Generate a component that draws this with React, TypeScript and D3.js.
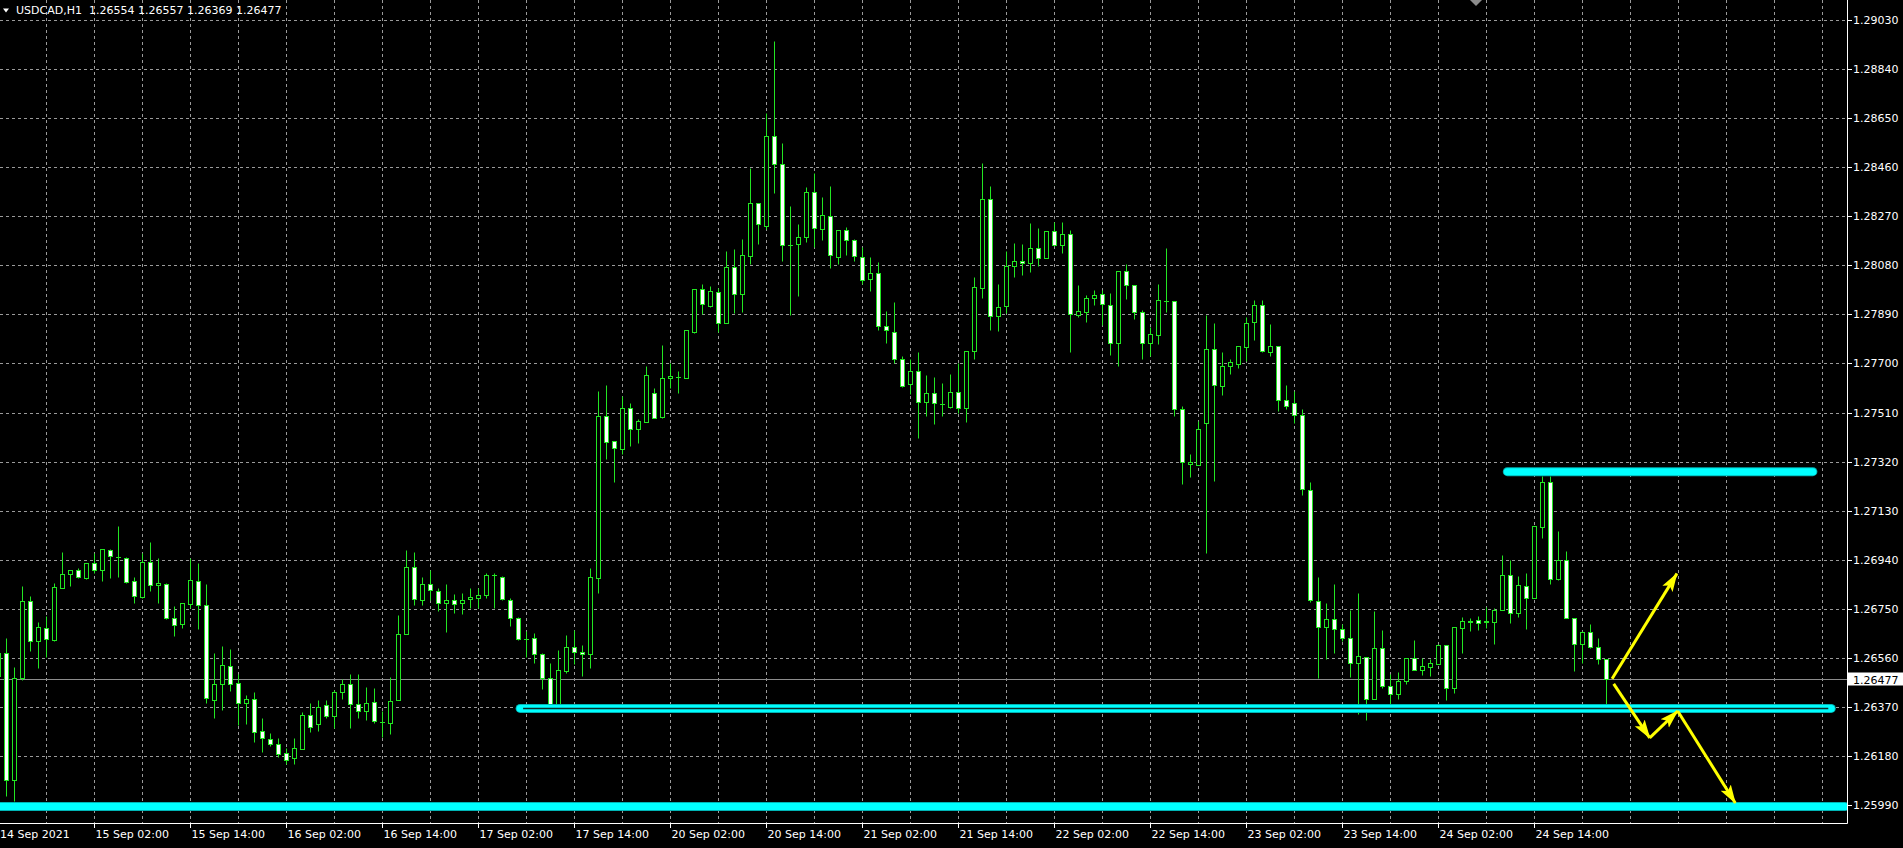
import React from 'react';
import * as d3 from 'd3';

const W = 1903;
const H = 848;

const symbolTitle = 'USDCAD,H1';
const headerOHLC = ['1.26554', '1.26557', '1.26369', '1.26477'];
const currentPrice = 1.26477;

const priceTicks = [1.2903, 1.2884, 1.2865, 1.2846, 1.2827, 1.2808, 1.2789, 1.277, 1.2751, 1.2732, 1.2713, 1.2694, 1.2675, 1.2656, 1.2637, 1.2618, 1.2599];

const timeLabels = ['14 Sep 2021', '15 Sep 02:00', '15 Sep 14:00', '16 Sep 02:00', '16 Sep 14:00', '17 Sep 02:00', '17 Sep 14:00', '20 Sep 02:00', '20 Sep 14:00', '21 Sep 02:00', '21 Sep 14:00', '22 Sep 02:00', '22 Sep 14:00', '23 Sep 02:00', '23 Sep 14:00', '24 Sep 02:00', '24 Sep 14:00'];
const timeLabelBars = [0, 12, 24, 36, 48, 60, 72, 84, 96, 108, 120, 132, 144, 156, 168, 180, 192];

const opens = [1.26490,1.26579,1.26087,1.26482,1.26781,1.26626,1.26676,1.26630,1.26831,1.26886,1.26901,1.26870,1.26928,1.26901,1.26979,1.26952,1.26948,1.26859,1.26797,1.26932,1.26843,1.26847,1.26715,1.26692,1.26769,1.26859,1.26766,1.26397,1.26459,1.26529,1.26463,1.26385,1.26401,1.26277,1.26246,1.26227,1.26192,1.26172,1.26207,1.26339,1.26304,1.26378,1.26335,1.26428,1.26459,1.26382,1.26354,1.26389,1.26312,1.26308,1.26397,1.26653,1.26913,1.26785,1.26847,1.26820,1.26773,1.26785,1.26773,1.26789,1.26793,1.26804,1.26882,1.26874,1.26785,1.26715,1.26634,1.26638,1.26576,1.26482,1.26378,1.26510,1.26603,1.26583,1.26576,1.26870,1.27498,1.27398,1.27370,1.27526,1.27448,1.27475,1.27584,1.27491,1.27642,1.27646,1.27642,1.27820,1.27987,1.27921,1.27975,1.27855,1.28072,1.27968,1.28115,1.28320,1.28231,1.28580,1.28472,1.28158,1.28161,1.28189,1.28363,1.28220,1.28270,1.28111,1.28216,1.28177,1.28111,1.28026,1.28049,1.27844,1.27820,1.27719,1.27619,1.27669,1.27549,1.27584,1.27541,1.27533,1.27588,1.27529,1.27750,1.27991,1.28336,1.27882,1.27921,1.28076,1.28096,1.28088,1.28146,1.28107,1.28212,1.28158,1.28200,1.27886,1.27898,1.27952,1.27968,1.27925,1.27781,1.28057,1.28002,1.27898,1.27781,1.27809,1.27940,1.27940,1.27522,1.27312,1.27308,1.27471,1.27754,1.27611,1.27692,1.27696,1.27762,1.27859,1.27925,1.27743,1.27766,1.27560,1.27545,1.27502,1.27211,1.26781,1.26680,1.26711,1.26672,1.26638,1.26541,1.26564,1.26401,1.26599,1.26451,1.26420,1.26471,1.26560,1.26513,1.26525,1.26537,1.26610,1.26444,1.26676,1.26700,1.26707,1.26700,1.26700,1.26746,1.26882,1.26735,1.26839,1.26793,1.27068,1.27239,1.26866,1.26940,1.26715,1.26614,1.26661,1.26603,1.26554];

const highs = [1.26595,1.26638,1.26525,1.26839,1.26800,1.26700,1.26723,1.26851,1.26971,1.26901,1.26909,1.26928,1.26967,1.26983,1.26983,1.27072,1.26952,1.26874,1.26967,1.27010,1.26948,1.26851,1.26762,1.26773,1.26948,1.26928,1.26847,1.26579,1.26607,1.26595,1.26498,1.26417,1.26428,1.26327,1.26269,1.26250,1.26211,1.26250,1.26351,1.26385,1.26397,1.26397,1.26436,1.26479,1.26498,1.26498,1.26448,1.26444,1.26354,1.26486,1.26727,1.26979,1.26971,1.26874,1.26901,1.26831,1.26847,1.26808,1.26812,1.26831,1.26831,1.26890,1.26890,1.26878,1.26793,1.26719,1.26665,1.26657,1.26579,1.26541,1.26591,1.26649,1.26669,1.26610,1.26909,1.27595,1.27615,1.27401,1.27572,1.27545,1.27483,1.27692,1.27603,1.27770,1.27700,1.27669,1.27828,1.27987,1.28006,1.27999,1.27991,1.28134,1.28142,1.28181,1.28456,1.28320,1.28669,1.28949,1.28553,1.28309,1.28239,1.28382,1.28437,1.28344,1.28386,1.28216,1.28227,1.28181,1.28150,1.28111,1.28092,1.27902,1.27937,1.27727,1.27716,1.27743,1.27654,1.27646,1.27626,1.27661,1.27700,1.27747,1.28033,1.28476,1.28386,1.28006,1.28134,1.28165,1.28161,1.28243,1.28223,1.28212,1.28247,1.28247,1.28216,1.28002,1.27964,1.27983,1.27983,1.27971,1.28057,1.28084,1.28002,1.27906,1.27840,1.28006,1.28146,1.27940,1.27537,1.27351,1.27479,1.27886,1.27855,1.27743,1.27716,1.27766,1.27878,1.27944,1.27944,1.27851,1.27766,1.27615,1.27595,1.27522,1.27242,1.26874,1.26773,1.26847,1.26692,1.26746,1.26812,1.26564,1.26742,1.26669,1.26498,1.26506,1.26560,1.26630,1.26560,1.26556,1.26614,1.26610,1.26680,1.26719,1.26715,1.26723,1.26758,1.26754,1.26959,1.26940,1.26878,1.26890,1.27072,1.27266,1.27266,1.27053,1.26975,1.26715,1.26665,1.26692,1.26638,1.26557];

const lows = [1.26479,1.26025,1.26006,1.26475,1.26587,1.26521,1.26564,1.26626,1.26831,1.26839,1.26870,1.26866,1.26890,1.26859,1.26870,1.26874,1.26851,1.26773,1.26793,1.26820,1.26773,1.26711,1.26645,1.26676,1.26754,1.26672,1.26385,1.26327,1.26358,1.26432,1.26300,1.26304,1.26234,1.26195,1.26219,1.26176,1.26149,1.26149,1.26207,1.26273,1.26277,1.26327,1.26289,1.26401,1.26289,1.26327,1.26320,1.26308,1.26254,1.26265,1.26397,1.26653,1.26766,1.26766,1.26785,1.26742,1.26661,1.26735,1.26731,1.26754,1.26754,1.26793,1.26754,1.26785,1.26684,1.26630,1.26564,1.26541,1.26440,1.26366,1.26374,1.26502,1.26537,1.26490,1.26521,1.26812,1.27328,1.27239,1.27351,1.27382,1.27390,1.27475,1.27487,1.27487,1.27603,1.27584,1.27642,1.27816,1.27890,1.27917,1.27820,1.27855,1.27894,1.27898,1.28084,1.28161,1.28220,1.28359,1.28096,1.27886,1.27960,1.28169,1.28150,1.28177,1.28068,1.28084,1.28119,1.28096,1.28006,1.27979,1.27828,1.27781,1.27700,1.27607,1.27580,1.27413,1.27498,1.27467,1.27498,1.27529,1.27510,1.27475,1.27716,1.27952,1.27828,1.27824,1.27894,1.28033,1.28041,1.28053,1.28076,1.28107,1.28154,1.28127,1.27743,1.27878,1.27859,1.27925,1.27847,1.27731,1.27692,1.27948,1.27871,1.27719,1.27727,1.27774,1.27898,1.27495,1.27235,1.27262,1.27308,1.26967,1.27246,1.27576,1.27661,1.27681,1.27708,1.27789,1.27743,1.27727,1.27514,1.27522,1.27471,1.27192,1.26777,1.26482,1.26556,1.26579,1.26626,1.26486,1.26343,1.26320,1.26401,1.26444,1.26382,1.26401,1.26459,1.26513,1.26494,1.26490,1.26537,1.26397,1.26424,1.26579,1.26665,1.26669,1.26676,1.26614,1.26746,1.26696,1.26719,1.26672,1.26793,1.27025,1.26847,1.26863,1.26715,1.26510,1.26541,1.26599,1.26537,1.26369];

const closes = [1.26579,1.26087,1.26482,1.26781,1.26626,1.26680,1.26634,1.26835,1.26886,1.26901,1.26874,1.26928,1.26901,1.26983,1.26956,1.26952,1.26855,1.26800,1.26932,1.26843,1.26851,1.26715,1.26688,1.26773,1.26863,1.26766,1.26405,1.26459,1.26533,1.26459,1.26385,1.26401,1.26273,1.26250,1.26227,1.26188,1.26164,1.26211,1.26339,1.26292,1.26370,1.26335,1.26428,1.26459,1.26382,1.26354,1.26385,1.26316,1.26312,1.26393,1.26653,1.26913,1.26789,1.26847,1.26824,1.26773,1.26785,1.26769,1.26785,1.26797,1.26804,1.26882,1.26882,1.26789,1.26715,1.26634,1.26634,1.26576,1.26482,1.26382,1.26513,1.26603,1.26583,1.26576,1.26874,1.27498,1.27394,1.27374,1.27526,1.27448,1.27479,1.27657,1.27487,1.27642,1.27650,1.27646,1.27828,1.27987,1.27929,1.27979,1.27855,1.28072,1.27968,1.28119,1.28320,1.28239,1.28580,1.28472,1.28158,1.28158,1.28189,1.28363,1.28223,1.28274,1.28119,1.28216,1.28177,1.28115,1.28022,1.28049,1.27844,1.27828,1.27719,1.27611,1.27669,1.27549,1.27584,1.27545,1.27541,1.27588,1.27529,1.27747,1.27995,1.28336,1.27882,1.27917,1.28076,1.28096,1.28088,1.28146,1.28107,1.28212,1.28158,1.28200,1.27890,1.27902,1.27952,1.27964,1.27929,1.27781,1.28057,1.28002,1.27898,1.27781,1.27813,1.27944,1.27940,1.27522,1.27320,1.27320,1.27448,1.27754,1.27615,1.27692,1.27704,1.27766,1.27855,1.27925,1.27747,1.27766,1.27557,1.27537,1.27502,1.27215,1.26785,1.26680,1.26711,1.26672,1.26638,1.26541,1.26568,1.26401,1.26599,1.26451,1.26420,1.26471,1.26560,1.26513,1.26529,1.26541,1.26610,1.26444,1.26680,1.26703,1.26703,1.26696,1.26703,1.26746,1.26882,1.26735,1.26843,1.26793,1.27072,1.27239,1.26866,1.26940,1.26715,1.26614,1.26661,1.26603,1.26556,1.26477];

// horizontal levels drawn on the chart (price, start bar, end bar)
const levelPrices = [1.27281, 1.26364, 1.25984];
const levelStartBars = [188.6, 65.2, 0];
const levelEndBars = [226.8, 229.1, 230.9];
const levelHollow = [false, true, false];

// yellow arrows (bar index / price of start and end)
const arrowFromBar = [201.7, 201.9, 206.4, 209.9];
const arrowFromPrice = [1.26479, 1.26459, 1.26250, 1.26354];
const arrowToBar = [209.8, 206.4, 209.9, 217.1];
const arrowToPrice = [1.26886, 1.26250, 1.26354, 1.25998];

const PLOT_RIGHT = 1847;
const PLOT_BOTTOM = 823;
const FONT = "'DejaVu Sans', Tahoma, Verdana, sans-serif";
const GREEN = '#22e622';
const GRID = '#9a9a9a';

export default function App() {
  const x = d3.scaleLinear().domain([0, 1]).range([-1.5, 6.5]);
  const y = d3.scaleLinear().domain([priceTicks[0], priceTicks[priceTicks.length - 1]]).range([20, 805]);
  const snap = (v: number) => Math.round(v) + 0.5;

  const gridBars = d3.range(0, 231, 6);

  const candles = opens.map((o, i) => {
    const cx = x(i);
    const yo = snap(y(o));
    const yc = snap(y(closes[i]));
    const yh = snap(y(highs[i]));
    const yl = snap(y(lows[i]));
    const top = Math.min(yo, yc);
    const bot = Math.max(yo, yc);
    const bull = closes[i] > opens[i];
    return (
      <g key={i}>
        <line x1={cx} x2={cx} y1={yh} y2={yl} stroke={GREEN} strokeWidth={1} />
        {bot - top < 1 ? (
          <line x1={cx - 2.5} x2={cx + 2.5} y1={top} y2={top} stroke={GREEN} strokeWidth={1} />
        ) : (
          <rect x={cx - 2} y={top} width={4} height={bot - top} fill={bull ? '#000' : '#fff'} stroke={GREEN} strokeWidth={1} />
        )}
      </g>
    );
  });

  const yCur = snap(y(currentPrice));

  return (
    <svg width={W} height={H} style={{ position: 'absolute', left: 0, top: 0, display: 'block' }} fontFamily={FONT}>
      <defs>
        <marker id="ah" markerUnits="userSpaceOnUse" markerWidth={19} markerHeight={13} refX={18} refY={6} orient="auto" viewBox="0 0 19 12">
          <path d="M0,0 L19,6 L0,12 L4,6 Z" fill="#ffff00" />
        </marker>
        <clipPath id="plot">
          <rect x={0} y={0} width={PLOT_RIGHT} height={PLOT_BOTTOM} />
        </clipPath>
      </defs>
      <rect x={0} y={0} width={W} height={H} fill="#000" />

      <g clipPath="url(#plot)">
        {priceTicks.map((t, i) => (
          <line key={'hg' + i} x1={0} x2={PLOT_RIGHT} y1={snap(y(t))} y2={snap(y(t))} stroke={GRID} strokeWidth={1} strokeDasharray="3,3" />
        ))}
        {gridBars.map((b) => (
          <line key={'vg' + b} x1={x(b)} x2={x(b)} y1={0} y2={PLOT_BOTTOM} stroke={GRID} strokeWidth={1} strokeDasharray="3,3" />
        ))}

        <line x1={0} x2={PLOT_RIGHT} y1={yCur} y2={yCur} stroke="#8c8c8c" strokeWidth={1} />

        {candles}

        {levelPrices.map((p, i) => {
          const yy = y(p);
          const x1 = x(levelStartBars[i]);
          const x2 = Math.min(x(levelEndBars[i]), PLOT_RIGHT - 2);
          return (
            <g key={'lv' + i}>
              <line x1={x1} x2={x2} y1={yy} y2={yy} stroke="#00b4b4" strokeWidth={9} strokeLinecap="round" />
              <line x1={x1} x2={x2} y1={yy} y2={yy} stroke="#00ffff" strokeWidth={7} strokeLinecap="round" />
              {levelHollow[i] && <line x1={x1 + 3} x2={x2 - 3} y1={yy} y2={yy} stroke="#0a2a2a" strokeWidth={1.5} />}
            </g>
          );
        })}

        {arrowFromBar.map((b, i) => (
          <line key={'ar' + i} x1={x(b)} y1={y(arrowFromPrice[i])} x2={x(arrowToBar[i])} y2={y(arrowToPrice[i])} stroke="#ffff00" strokeWidth={3} markerEnd="url(#ah)" />
        ))}
      </g>

      {/* frame */}
      <line x1={PLOT_RIGHT + 0.5} x2={PLOT_RIGHT + 0.5} y1={0} y2={PLOT_BOTTOM + 0.5} stroke="#fff" strokeWidth={1} />
      <line x1={0} x2={PLOT_RIGHT + 0.5} y1={PLOT_BOTTOM + 0.5} y2={PLOT_BOTTOM + 0.5} stroke="#fff" strokeWidth={1} />

      {/* price axis */}
      {priceTicks.map((t, i) => (
        <g key={'pt' + i}>
          <line x1={PLOT_RIGHT} x2={PLOT_RIGHT + 5} y1={snap(y(t))} y2={snap(y(t))} stroke="#fff" strokeWidth={1} />
          <text x={PLOT_RIGHT + 6} y={y(t) + 4} fill="#fff" fontSize={11}>{t.toFixed(5)}</text>
        </g>
      ))}
      <rect x={PLOT_RIGHT + 1} y={yCur - 7} width={W - PLOT_RIGHT} height={13} fill="#fff" />
      <text x={PLOT_RIGHT + 6} y={yCur + 4} fill="#000" fontSize={11}>{currentPrice.toFixed(5)}</text>

      {/* time axis */}
      {timeLabels.map((lab, i) => {
        const tx = x(timeLabelBars[i]);
        return (
          <g key={'tl' + i}>
            {i > 0 && <line x1={tx} x2={tx} y1={PLOT_BOTTOM} y2={PLOT_BOTTOM + 5} stroke="#fff" strokeWidth={1} />}
            <text x={i === 0 ? 0 : tx + 1} y={PLOT_BOTTOM + 15} fill="#fff" fontSize={11}>{lab}</text>
          </g>
        );
      })}

      {/* header */}
      <path d="M3,8.5 L9,8.5 L6,12.5 Z" fill="#fff" />
      <text x={16} y={13.5} fill="#fff" fontSize={11} xmlSpace="preserve">{symbolTitle + '  ' + headerOHLC.join(' ')}</text>

      {/* shift marker */}
      <path d="M1470,0 L1482,0 L1476,6 Z" fill="#8c8c8c" />
    </svg>
  );
}
